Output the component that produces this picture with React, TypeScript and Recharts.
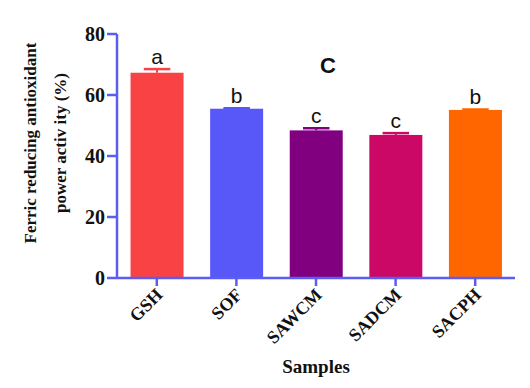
import { BarChart, Bar, XAxis, YAxis, Cell, LabelList, Customized } from "recharts";

const samples = ["GSH", "SOF", "SAWCM", "SADCM", "SACPH"];
const frap = [67.3, 55.5, 48.4, 46.9, 55.1];
const frapErr = [1.2, 0.15, 0.7, 0.6, 0.15];
const letters = ["a", "b", "c", "c", "b"];
const yTicks = [0, 20, 40, 60, 80];

const colors = ["#f84244", "#5858f8", "#800080", "#cc0866", "#ff6600"];
const axisBlue = "#5c5cf2";
const serif = "'Liberation Serif', 'Times New Roman', serif";
const sans = "'Liberation Sans', Arial, sans-serif";

const data = samples.map((name, i) => ({ name, value: frap[i], err: frapErr[i], letter: letters[i] }));

const BarWithCap = (props: any) => {
  const { x, y, width, height, fill, payload } = props;
  const perUnit = height / payload.value;
  const capY = y - payload.err * perUnit;
  const capW = width / 2;
  return (
    <g>
      <rect x={x} y={y} width={width} height={height} fill={fill} />
      <line x1={x + width / 2} x2={x + width / 2} y1={y} y2={capY} stroke={fill} strokeWidth={2} />
      <line x1={x + width / 2 - capW / 2} x2={x + width / 2 + capW / 2} y1={capY} y2={capY} stroke={fill} strokeWidth={2.5} />
    </g>
  );
};

const LetterLabel = (props: any) => {
  const { x, y, width, height, index } = props;
  const perUnit = height / frap[index];
  const top = y - frapErr[index] * perUnit;
  return (
    <text x={x + width / 2} y={top - 5} textAnchor="middle" fontFamily={sans} fontSize={21} fill="#111">
      {letters[index]}
    </text>
  );
};

const XTick = (props: any) => {
  const { x, y, payload } = props;
  return (
    <g transform={`translate(${x - 2},${y - 1})`}>
      <text transform="rotate(-45)" textAnchor="end" dy="0.7em" fontFamily={serif} fontWeight="bold" fontSize={18} fill="#111">
        {payload.value}
      </text>
    </g>
  );
};

const YLabel = () => {
  const cy = 143;
  return (
    <g fontFamily={serif} fontWeight="bold" fontSize={17} fill="#111">
      <text x={36} y={cy} textAnchor="middle" transform={`rotate(-90, 36, ${cy})`}>
        Ferric reducing antioxidant
      </text>
      <text x={66} y={cy} textAnchor="middle" transform={`rotate(-90, 66, ${cy})`}>
        power activ ity (%)
      </text>
    </g>
  );
};

const PanelTitle = () => (
  <text x={328} y={73} textAnchor="middle" fontFamily={sans} fontWeight="bold" fontSize={22} fill="#111">
    C
  </text>
);

export default function App() {
  return (
    <div style={{ position: "absolute", left: 0, top: 0, background: "#fff" }}>
      <BarChart width={530} height={388} data={data} margin={{ top: 34, right: 15, bottom: 0, left: 0 }} barCategoryGap="17%">
        <XAxis
          dataKey="name"
          height={110}
          tick={<XTick />}
          tickSize={8}
          interval={0}
          axisLine={{ stroke: axisBlue, strokeWidth: 2.5 }}
          tickLine={{ stroke: axisBlue, strokeWidth: 2.5 }}
          label={{ value: "Samples", position: "insideBottom", offset: 15, fontFamily: serif, fontWeight: "bold", fontSize: 19, fill: "#111" }}
        />
        <XAxis xAxisId="top" dataKey="name" orientation="top" height={0} tick={false} tickLine={false} axisLine={{ stroke: axisBlue, strokeWidth: 2.5 }} />
        <YAxis
          domain={[0, 80]}
          ticks={yTicks}
          width={117}
          tickSize={10}
          axisLine={{ stroke: axisBlue, strokeWidth: 2.5 }}
          tickLine={{ stroke: axisBlue, strokeWidth: 2.5 }}
          tick={{ fontFamily: serif, fontWeight: "bold", fontSize: 20, fill: "#111" }}
          label={<YLabel />}
        />
        <YAxis yAxisId="right" orientation="right" domain={[0, 80]} width={0} tick={false} tickLine={false} axisLine={{ stroke: axisBlue, strokeWidth: 2.5 }} />
        <Bar dataKey="value" isAnimationActive={false} shape={<BarWithCap />}>
          {data.map((d, i) => (
            <Cell key={d.name} fill={colors[i]} />
          ))}
          <LabelList dataKey="letter" content={<LetterLabel />} />
        </Bar>
        <Customized component={PanelTitle} />
      </BarChart>
    </div>
  );
}
